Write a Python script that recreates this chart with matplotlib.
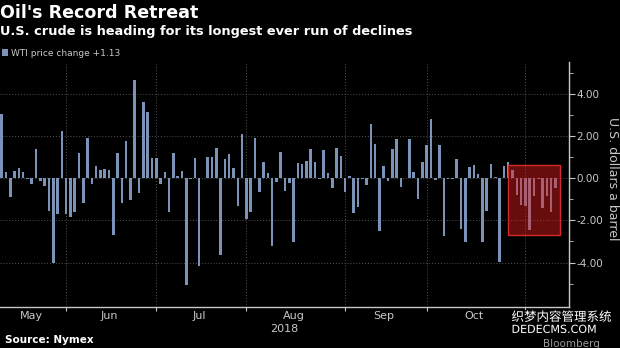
import matplotlib
matplotlib.use("Agg")
import matplotlib.pyplot as plt
import matplotlib.patheffects as pe
from matplotlib.patches import Rectangle
import numpy as np

# daily WTI price change (USD/bbl), trading days 10 May - 12 Nov 2018
may = [3.02, 0.31, -0.91, 0.35, 0.49, 0.27, -0.02, -0.28, 1.37, -0.14,
       -0.39, -1.57, -4.02, -1.70, 2.22]
jun = [-1.70, -1.83, -1.59, 1.20, -1.18, 1.91, -0.28, 0.57, 0.38, 0.41,
       0.38, -2.71, 1.21, -1.18, 1.76, -1.02, 4.65, -0.71, 3.59, 3.15, 0.94]
jul = [0.94, -0.28, 0.27, -1.59, 1.18, 0.08, 0.36, -5.04, -0.06, 0.96,
       -4.16, 0.02, 0.99, 1.02, 1.43, -3.65, 0.91, 1.15, 0.47, -1.31, 2.09]
aug = [-1.95, -1.61, 1.92, -0.68, 0.76, 0.25, -3.23, -0.19, 1.23, -0.63,
       -0.24, -3.02, 0.71, 0.68, 0.80, 1.39, 0.76, -0.05, 1.31, 0.22,
       -0.49, 1.43, 1.07]
sep = [-0.65, 0.09, -1.65, -1.39, -0.02, -0.31, 2.54, 1.62, -2.52, 0.58,
       -0.13, 1.37, 1.83, -0.44, 0.02, 1.86, 0.28, -0.98, 0.77]
oct_ = [1.57, 2.80, -0.11, 1.57, -2.72, -0.02, -0.06, 0.90, -2.39, -3.02,
        0.52, 0.63, 0.20, -3.02, -1.57, 0.68, 0.06, -3.97, 0.58, 0.77,
        0.38, -0.79, -1.29]
nov = [-1.31, -2.47, -0.87, -0.05, -1.42, -0.87, -1.61, -0.47]

months = ["May", "Jun", "Jul", "Aug", "Sep", "Oct"]
month_data = [may, jun, jul, aug, sep, oct_, nov]
yticks = [-4, -2, 0, 2, 4]

# highlighted streak (bar index range and value range)
box_x = (117.95, 130.05)
box_y = (-2.71, 0.63)

values = np.concatenate(month_data)
x = np.arange(len(values))
starts = np.cumsum([0] + [len(m) for m in month_data])

bar_color = "#7a93b6"
grey = "#c8c8c8"

fig = plt.figure(figsize=(6.2, 3.48), dpi=100, facecolor="black")
ax = fig.add_axes([0.0, 0.118, 0.918, 0.704], facecolor="black")

ax.bar(x, values, width=0.6, color=bar_color, label="WTI price change +1.13", zorder=2)
ax.add_patch(Rectangle((box_x[0], box_y[0]), box_x[1] - box_x[0], box_y[1] - box_y[0],
                       facecolor=(0.9, 0.12, 0.12, 0.45), edgecolor="#d42a2a",
                       linewidth=1, zorder=3))

ax.set_xlim(-0.4, 132.2)
ax.set_ylim(-6.1, 5.5)

for s in ["left", "top"]:
    ax.spines[s].set_visible(False)
for s in ["right", "bottom"]:
    ax.spines[s].set_color(grey)
    ax.spines[s].set_linewidth(1)

ax.yaxis.tick_right()
ax.set_yticks(yticks)
ax.set_yticklabels([f"{v:.2f}" for v in yticks])
ax.set_yticks(np.arange(-5, 6, 2), minor=True)
ax.tick_params(axis="y", which="both", colors=grey, labelsize=7.5, direction="out")
ax.tick_params(axis="y", which="major", length=4, pad=1)
ax.tick_params(axis="y", which="minor", length=3)
fig.text(0.988, 0.485, "U.S. dollars a barrel", color=grey, fontsize=9,
         rotation=-90, ha="center", va="center")

ax.set_xticks(starts[1:-1])
ax.set_xticklabels([])
centers = [(starts[i] + starts[i + 1] - 1) / 2 for i in range(len(months))]
ax.set_xticks(centers, minor=True)
ax.set_xticklabels(months, minor=True)
ax.tick_params(axis="x", which="major", colors=grey, length=3, direction="out")
ax.tick_params(axis="x", which="minor", length=0, colors=grey, labelsize=8, pad=3)

ax.grid(True, which="major", color="#555555", linestyle=(0, (1, 2)), linewidth=0.7, zorder=0)
ax.set_axisbelow(True)

ax.text(0.5, -0.07, "2018", transform=ax.transAxes, ha="center", va="top",
        color=grey, fontsize=8)

fig.text(0.0, 0.962, "Oil's Record Retreat", color="white", fontsize=12.6,
         fontweight="bold", va="center", ha="left")
fig.text(0.0, 0.91, "U.S. crude is heading for its longest ever run of declines",
         color="white", fontsize=9.3, fontweight="bold", va="center", ha="left")

leg = ax.legend(loc="upper left", bbox_to_anchor=(0.0, 0.865),
                bbox_transform=fig.transFigure, frameon=False, fontsize=6.5,
                handlelength=0.7, handleheight=0.7, handletextpad=0.3,
                borderpad=0.1, borderaxespad=0.1)
for t in leg.get_texts():
    t.set_color(grey)

fig.text(0.008, 0.022, "Source: Nymex", color="white", fontsize=7.5,
         fontweight="bold", va="center", ha="left")
fig.text(0.968, 0.012, "Bloomberg", color="#9a9a9a", fontsize=7.5,
         va="center", ha="right")

# site watermark overlaid on the picture
wm = [pe.withStroke(linewidth=2, foreground="black")]
fig.text(0.825, 0.088, "织梦内容管理系统", color="white", fontsize=9,
         family=["Noto Sans CJK SC", "DejaVu Sans"], va="center", ha="left",
         path_effects=wm)
fig.text(0.825, 0.052, "DEDECMS.COM", color="white", fontsize=8,
         va="center", ha="left", path_effects=wm)

fig.savefig("out.png", dpi=100, facecolor="black")
